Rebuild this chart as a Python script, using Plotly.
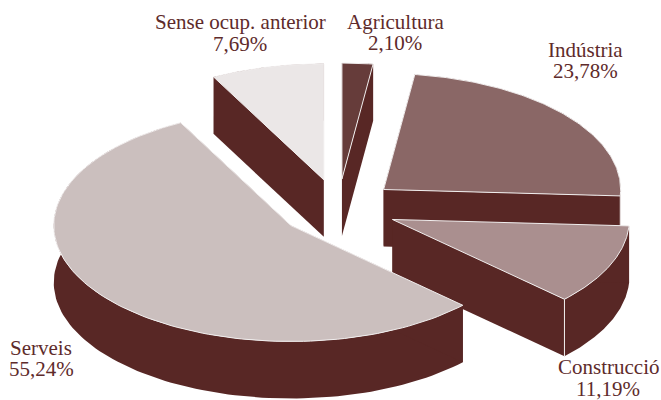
import numpy as np
import plotly.graph_objects as go

categories = ['Agricultura', 'Indústria', 'Construcció', 'Serveis', 'Sense ocup. anterior']
shares = [2.10, 23.78, 11.19, 55.24, 7.69]
slice_colors = ['#663c3a', '#8a6766', '#aa8f8f', '#cbbfbe', '#ebe7e7']

# back to front, so nearer slices paint over the ones behind
draw_order = [4, 0, 1, 2, 3]

# pie geometry in pixels of the 661x400 page
CX, CY = 338, 208
RX, RY = 237, 116
DEPTH = 57
EXPLODE = 0.25
SIDE_COLOR = '#582725'
EDGE_COLOR = '#f1eeee'
TEXT_COLOR = '#5e2b2b'

# x centre, y of first line, y of second line
label_pos = {
    'Agricultura': (395, 22, 43),
    'Indústria': (585, 50, 71),
    'Construcció': (608, 367, 389),
    'Serveis': (41, 348, 369),
    'Sense ocup. anterior': (240, 22, 44),
}


def add_poly(fig, xs, ys, fill, line_color=None, line_width=0):
    fig.add_trace(go.Scatter(
        x=xs, y=ys, mode='lines', fill='toself', fillcolor=fill,
        line=dict(color=line_color or fill, width=line_width),
        hoverinfo='skip', showlegend=False,
    ))


def add_slice(fig, start, end, color):
    """Draw one exploded slice; angles are clockwise from 12 o'clock, in radians"""
    mid = (start + end) / 2
    x0 = CX + EXPLODE * RX * np.sin(mid)
    y0 = CY - EXPLODE * RY * np.cos(mid)

    t = np.linspace(start, end, 120)
    arc_x = x0 + RX * np.sin(t)
    arc_y = y0 - RY * np.cos(t)

    # extruded sides: rim and the two cut faces
    add_poly(fig, list(arc_x) + list(arc_x[::-1]),
             list(arc_y) + list(arc_y[::-1] + DEPTH), SIDE_COLOR)
    for i in (0, -1):
        add_poly(fig, [x0, arc_x[i], arc_x[i], x0],
                 [y0, arc_y[i], arc_y[i] + DEPTH, y0 + DEPTH], SIDE_COLOR)

    # seam where the front cut face meets the rim
    if np.pi / 2 < end < 3 * np.pi / 2:
        fig.add_trace(go.Scatter(
            x=[arc_x[-1], arc_x[-1]], y=[arc_y[-1], arc_y[-1] + DEPTH], mode='lines',
            line=dict(color=EDGE_COLOR, width=1), hoverinfo='skip', showlegend=False,
        ))

    add_poly(fig, [x0] + list(arc_x) + [x0], [y0] + list(arc_y) + [y0],
             color, EDGE_COLOR, 1)


def add_label(fig, x, y, text):
    fig.add_annotation(
        x=x, y=y, text=text, showarrow=False, xanchor='center', yanchor='middle',
        font=dict(family='Liberation Serif', size=21, color=TEXT_COLOR),
    )


edges = np.cumsum([0] + shares) / sum(shares) * 2 * np.pi

fig = go.Figure()
for i in draw_order:
    add_slice(fig, edges[i], edges[i + 1], slice_colors[i])

for name, share in zip(categories, shares):
    x, y1, y2 = label_pos[name]
    add_label(fig, x, y1, name)
    add_label(fig, x, y2, f"{share:.2f}%".replace('.', ','))

fig.update_layout(
    width=661, height=400,
    margin=dict(l=0, r=0, t=0, b=0),
    paper_bgcolor='white', plot_bgcolor='white',
    xaxis=dict(range=[0, 661], visible=False, fixedrange=True),
    yaxis=dict(range=[400, 0], visible=False, fixedrange=True),
)

# the page's default body margin would push the chart 8px in
fig.write_html("out.html", config={'displayModeBar': False},
               post_script="document.body.style.margin='0';document.documentElement.style.overflow='hidden';")
